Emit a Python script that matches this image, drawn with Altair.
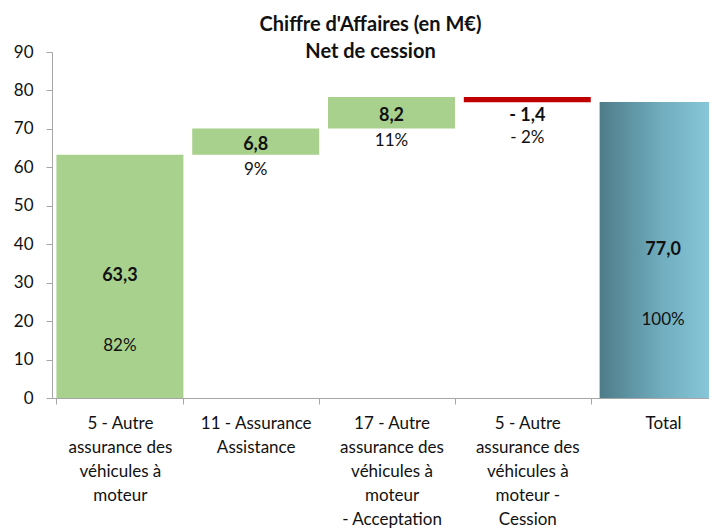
import altair as alt
import pandas as pd

categories = [
    "5 - Autre\nassurance des\nvéhicules à\nmoteur",
    "11 - Assurance\nAssistance",
    "17 - Autre\nassurance des\nvéhicules à\nmoteur\n- Acceptation",
    "5 - Autre\nassurance des\nvéhicules à\nmoteur -\nCession",
    "Total",
]
values = [63.3, 6.8, 8.2, -1.4, 77.0]
kinds = ["up", "up", "up", "down", "total"]
y_ticks = [0, 10, 20, 30, 40, 50, 60, 70, 80, 90]

total = values[-1]
rows = []
cum = 0.0
for i, (c, v, k) in enumerate(zip(categories, values, kinds)):
    if k == "total":
        start, end = 0.0, v
    else:
        start, end = cum, cum + v
        cum = end
    sign = "- " if v < 0 else ""
    vlab = sign + f"{abs(v):.1f}".replace(".", ",")
    pct = round(abs(v) / total * 100)
    plab = sign + f"{pct}%"
    rows.append(dict(cat=c, idx=i, start=start, end=end, mid=(start + end) / 2,
                     vlab=vlab, plab=plab, kind=k))
df = pd.DataFrame(rows)

FONT = "Lato"
xaxis = alt.Axis(labelAngle=0, tickBand="extent",
                 labelExpr="isValid(datum.value) ? split(datum.value, '\\n') : ''",
                 labelFont=FONT, labelFontSize=17, labelLineHeight=24, labelColor="#111",
                 labelPadding=11, tickSize=6, tickColor="#A6A6A6", domainColor="#A6A6A6",
                 labelBaseline="top")
xenc = alt.X("cat:N", sort=categories, title=None,
             scale=alt.Scale(paddingInner=0.065, paddingOuter=0.0325, range=[0, 679]),
             axis=xaxis)
yscale = alt.Scale(domain=[0, 90])
yaxis = alt.Axis(values=y_ticks, grid=False, labelFont=FONT, title=None,
                 labelFontSize=17, labelColor="#111", labelPadding=13, tickSize=6,
                 tickColor="#A6A6A6", domainColor="#A6A6A6")

def Y(field):
    return alt.Y(f"{field}:Q", scale=yscale, axis=yaxis, title=None)

base = alt.Chart(df)

bars = base.transform_filter("datum.kind != 'total'").mark_bar().encode(
    x=xenc, y=Y("start"), y2="end:Q",
    color=alt.Color("kind:N", scale=alt.Scale(domain=["up", "down"], range=["#A9D18E", "#C00000"]),
                    legend=None),
)

grad = alt.LinearGradient(
    gradient="linear", x1=0, x2=1, y1=0, y2=0,
    stops=[alt.GradientStop(offset=0, color="#4E7C89"),
           alt.GradientStop(offset=0.5, color="#71AEBF"),
           alt.GradientStop(offset=1, color="#8ED0E2")],
)
totbar = base.transform_filter("datum.kind == 'total'").mark_bar(color=grad).encode(
    x=xenc, y=Y("start"), y2="end:Q",
)

def txt(filt, field, bold, dy, size):
    return base.transform_filter(filt).mark_text(
        font=FONT, fontSize=size, fontWeight="bold" if bold else "normal",
        color="#111", dy=dy, baseline="middle",
    ).encode(x=xenc, y=Y("mid"), text=f"{field}:N")

big = "datum.idx == 0 || datum.idx == 4"
small = "datum.idx == 1 || datum.idx == 2"
neg = "datum.idx == 3"

layers = [
    bars, totbar,
    txt(big, "vlab", True, 0, 18),
    txt(small, "vlab", True, 3, 18),
    txt(neg, "vlab", True, 16, 18),
    txt(big, "plab", False, 70, 17),
    txt(small, "plab", False, 28, 17),
    txt(neg, "plab", False, 38, 17),
]

chart = alt.layer(*layers).properties(
    width=657, height=346,
    autosize=alt.AutoSizeParams(type="none"),
    padding={"left": 44, "top": 44, "right": 0, "bottom": 131},
    title=alt.TitleParams(
        text=["Chiffre d'Affaires (en M€)", "Net de cession"],
        font=FONT, fontSize=20, fontWeight="bold", lineHeight=27, color="#111",
        offset=-19, dx=-10, anchor="middle",
    ),
).configure_view(stroke=None)

chart.save("out.html", embed_options={"renderer": "svg", "actions": False})
